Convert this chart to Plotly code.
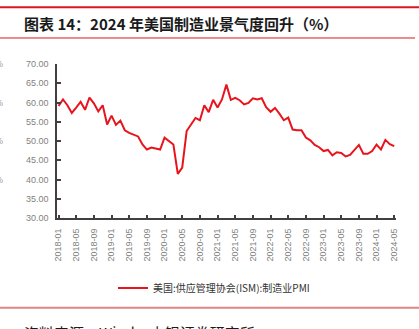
import plotly.graph_objects as go

# ISM manufacturing PMI, monthly, 2018-01 .. 2024-05
months = [f"{y}-{m:02d}" for y in range(2018, 2025) for m in range(1, 13)][:77]
pmi = [
    59.1, 60.8, 59.3, 57.3, 58.7, 60.2, 58.1, 61.3, 59.8, 57.7, 59.3, 54.3,   # 2018
    56.6, 54.2, 55.3, 52.8, 52.1, 51.7, 51.2, 49.1, 47.8, 48.3, 48.1, 47.8,   # 2019
    50.9, 50.1, 49.1, 41.5, 43.1, 52.6, 54.2, 56.0, 55.4, 59.3, 57.5, 60.7,   # 2020
    58.7, 60.8, 64.7, 60.7, 61.2, 60.6, 59.5, 59.9, 61.1, 60.8, 61.1, 58.8,   # 2021
    57.6, 58.6, 57.1, 55.4, 56.1, 53.0, 52.8, 52.8, 50.9, 50.2, 49.0, 48.4,   # 2022
    47.4, 47.7, 46.3, 47.1, 46.9, 46.0, 46.4, 47.6, 49.0, 46.7, 46.7, 47.4,   # 2023
    49.1, 47.8, 50.3, 49.2, 48.7,                                             # 2024
]
tick_idx = list(range(0, 77, 4))
tick_text = [months[i] for i in tick_idx]
y_ticks = [30, 35, 40, 45, 50, 55, 60, 65, 70]

W, H = 419, 329
L, R, T, B = 57, 23, 64, 105
PW, PH = W - L - R, H - T - B


def px(x):
    return (x - L) / PW


def py(y):
    return (H - B - y) / PH


AXIS = "#404040"
TICKFONT = dict(family="Liberation Sans, Arial, sans-serif", size=9, color="#7f7f7f")
CJK = "Noto Sans CJK SC, sans-serif"

fig = go.Figure()
fig.add_trace(go.Scatter(
    x=list(range(len(pmi))), y=pmi, mode="lines",
    name="美国:供应管理协会(ISM):制造业PMI",
    line=dict(color="#e8141c", width=2),
))

fig.update_layout(
    width=W, height=H,
    margin=dict(l=L, r=R, t=T, b=B, pad=0),
    paper_bgcolor="white", plot_bgcolor="white",
    showlegend=True,
    legend=dict(
        orientation="h", xref="container", yref="container",
        x=113 / W, y=1 - 288 / H, xanchor="left", yanchor="middle",
        font=dict(family=CJK, size=10, color="#333333"),
        bgcolor="rgba(0,0,0,0)", itemwidth=30,
    ),
    xaxis=dict(
        range=[-0.35, 76.4], tickmode="array", tickvals=tick_idx, ticktext=tick_text,
        tickangle=-90, ticks="inside", ticklen=3, tickwidth=1.5, tickcolor=AXIS,
        showline=True, linecolor=AXIS, linewidth=1.5, showgrid=False, zeroline=False,
        tickfont=TICKFONT, ticklabelstandoff=5,
    ),
    yaxis=dict(
        range=[30, 70], tickmode="array", tickvals=y_ticks,
        ticktext=[f"{v:.2f}" for v in y_ticks],
        ticks="inside", ticklen=4, tickwidth=1.5, tickcolor=AXIS,
        showline=True, linecolor=AXIS, linewidth=1.5, showgrid=False, zeroline=False,
        tickfont=TICKFONT, ticklabelstandoff=5,
    ),
    shapes=[
        dict(type="line", xref="paper", yref="paper", x0=px(0), x1=px(W), y0=py(5), y1=py(5),
             line=dict(color="#d71920", width=2)),
        dict(type="line", xref="paper", yref="paper", x0=px(0), x1=px(415), y0=py(37), y1=py(37),
             line=dict(color="#d71920", width=1)),
        dict(type="line", xref="paper", yref="paper", x0=px(0), x1=px(W), y0=py(317), y1=py(317),
             line=dict(color="#e08585", width=2)),
    ],
    annotations=[
        dict(text="<b>图表 14：2024 年美国制造业景气度回升（%）</b>", xref="paper", yref="paper",
             x=px(22), y=py(22), xanchor="left", yanchor="middle", showarrow=False,
             font=dict(family=CJK, size=15, color="#1a1a1a")),
        dict(text="资料来源：Wind，中银证券研究所", xref="paper", yref="paper",
             x=px(22), y=py(330), xanchor="left", yanchor="top", showarrow=False,
             font=dict(family=CJK, size=15, color="#1a1a1a")),
    ] + [
        dict(text="%", xref="paper", yref="y", x=px(5), y=v, xanchor="right", yanchor="middle",
             showarrow=False, font=dict(family="Liberation Sans, sans-serif", size=9, color="#9a9a9a"))
        for v in (70, 60, 50, 40)
    ],
)

fig.write_html("out.html")
